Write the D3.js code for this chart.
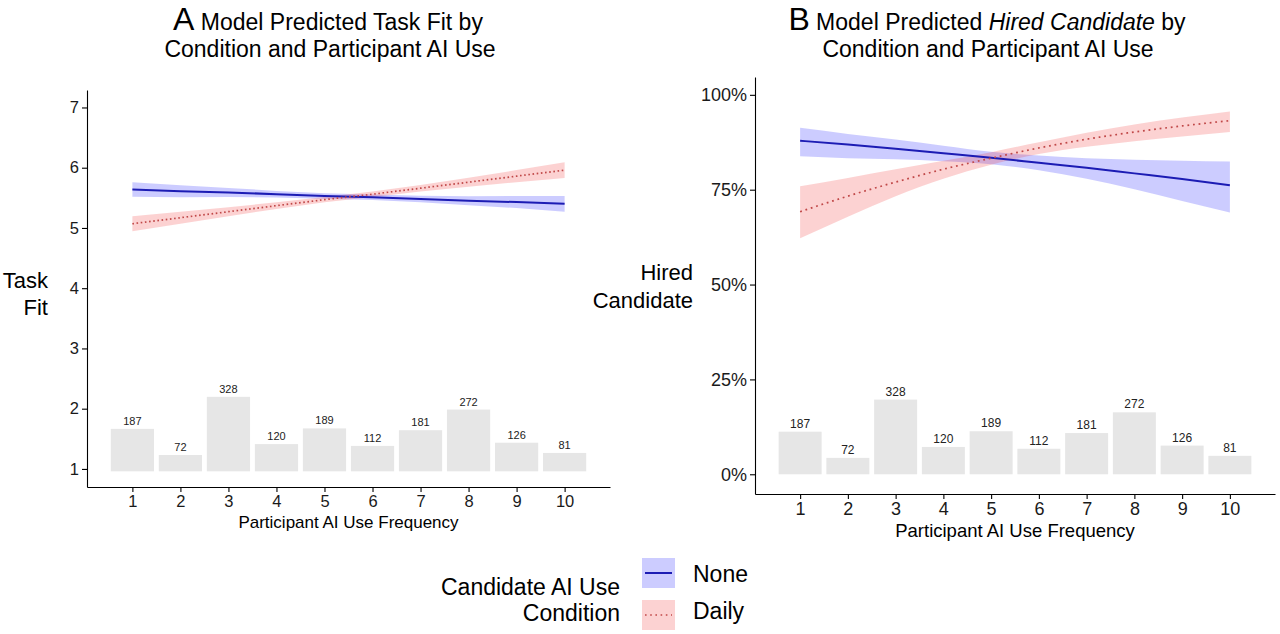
<!DOCTYPE html>
<html>
<head>
<meta charset="utf-8">
<script src="https://cdn.jsdelivr.net/npm/d3@7"></script>
<style>
  body { margin: 0; background: #fff; }
  svg { font-family: "Liberation Sans", Arial, Helvetica, sans-serif; }
  .axis path, .axis line { stroke: #000; stroke-width: 1.1; }
  .axis text { fill: #1a1a1a; }
</style>
</head>
<body>
<svg width="1280" height="634"></svg>
<script>
var width = 1280,
    height = 634;

// participant AI use frequency and number of participants in each bin
var freq = [1, 2, 3, 4, 5, 6, 7, 8, 9, 10];
var counts = [187, 72, 328, 120, 189, 112, 181, 272, 126, 81];

// panel A: predicted task fit (1-7)
var fitNone   = [5.64, 5.61, 5.59, 5.56, 5.53, 5.51, 5.48, 5.45, 5.43, 5.40];
var fitNoneLo = [5.52, 5.51, 5.515, 5.505, 5.485, 5.465, 5.425, 5.375, 5.33, 5.27];
var fitNoneHi = [5.76, 5.71, 5.665, 5.615, 5.575, 5.555, 5.535, 5.525, 5.53, 5.53];
var fitDaily   = [5.07, 5.17, 5.27, 5.37, 5.47, 5.56, 5.66, 5.76, 5.86, 5.96];
var fitDailyLo = [4.945, 5.07, 5.195, 5.315, 5.425, 5.515, 5.605, 5.685, 5.76, 5.83];
var fitDailyHi = [5.195, 5.27, 5.345, 5.425, 5.515, 5.605, 5.715, 5.835, 5.96, 6.09];

// panel B: predicted probability of hiring the candidate
var hireNone   = [0.879, 0.869, 0.858, 0.846, 0.834, 0.821, 0.808, 0.793, 0.778, 0.762];
var hireNoneLo = [0.838, 0.833, 0.830, 0.825, 0.817, 0.801, 0.779, 0.751, 0.720, 0.690];
var hireNoneHi = [0.913, 0.897, 0.882, 0.866, 0.850, 0.840, 0.833, 0.829, 0.826, 0.824];
var hireDaily   = [0.692, 0.733, 0.770, 0.804, 0.833, 0.860, 0.883, 0.902, 0.918, 0.932];
var hireDailyLo = [0.622, 0.679, 0.733, 0.779, 0.816, 0.844, 0.863, 0.878, 0.890, 0.902];
var hireDailyHi = [0.759, 0.781, 0.804, 0.826, 0.849, 0.875, 0.900, 0.922, 0.940, 0.956];

var fitTicks = [1, 2, 3, 4, 5, 6, 7];
var hireTicks = [0, 0.25, 0.5, 0.75, 1];

var blueLine = "#1c1cb4",
    blueFill = "#2a2aff",
    redLine = "#c04848",
    redFill = "#f03030",
    barFill = "#e6e6e6";

var svg = d3.select("svg");

function series(vals, lo, hi) {
    return freq.map(function (f, i) { return { x: f, y: vals[i], lo: lo[i], hi: hi[i] }; });
}

function drawPanel(p) {
    var x = d3.scaleLinear().domain([0.055, 10.945]).range(p.xRange);
    var y = d3.scaleLinear().domain(p.yDomain).range(p.yRange);
    var g = svg.append("g");
    var bw = x(0.9) - x(0);

    // count bars
    g.selectAll("rect.bar")
        .data(counts)
        .enter().append("rect")
        .attr("class", "bar")
        .attr("x", function (d, i) { return x(freq[i]) - bw / 2; })
        .attr("width", bw)
        .attr("y", function (d) { return y(p.barBase + d * p.barK); })
        .attr("height", function (d) { return y(p.barBase) - y(p.barBase + d * p.barK); })
        .attr("fill", barFill);

    g.selectAll("text.count")
        .data(counts)
        .enter().append("text")
        .attr("class", "count")
        .attr("x", function (d, i) { return x(freq[i]); })
        .attr("y", function (d) { return y(p.barBase + d * p.barK) - 4; })
        .attr("text-anchor", "middle")
        .attr("font-size", p.countSize)
        .attr("fill", "#222")
        .text(function (d) { return d; });

    var area = d3.area()
        .curve(p.curve)
        .x(function (d) { return x(d.x); })
        .y0(function (d) { return y(d.lo); })
        .y1(function (d) { return y(d.hi); });
    var line = d3.line()
        .curve(p.curve)
        .x(function (d) { return x(d.x); })
        .y(function (d) { return y(d.y); });

    g.append("path").datum(p.none).attr("d", area)
        .attr("fill", blueFill).attr("fill-opacity", 0.24);
    g.append("path").datum(p.daily).attr("d", area)
        .attr("fill", redFill).attr("fill-opacity", 0.22);
    g.append("path").datum(p.none).attr("d", line)
        .attr("fill", "none").attr("stroke", blueLine).attr("stroke-width", 2);
    g.append("path").datum(p.daily).attr("d", line)
        .attr("fill", "none").attr("stroke", redLine).attr("stroke-width", 1.7)
        .attr("stroke-dasharray", p.dash);

    // axes
    g.append("g")
        .attr("class", "axis")
        .attr("transform", "translate(" + p.xRange[0] + ",0)")
        .call(d3.axisLeft(y).tickValues(p.yTicks).tickFormat(p.yFormat)
            .tickSize(5).tickSizeOuter(0).tickPadding(3))
        .selectAll("text").attr("font-size", p.tickSize);

    g.append("g")
        .attr("class", "axis")
        .attr("transform", "translate(0," + p.yRange[0] + ")")
        .call(d3.axisBottom(x).tickValues(freq).tickFormat(d3.format("d"))
            .tickSize(5).tickSizeOuter(0).tickPadding(3))
        .selectAll("text").attr("font-size", p.tickSize);

    g.append("text")
        .attr("x", x(5.5))
        .attr("y", p.xTitleY)
        .attr("text-anchor", "middle")
        .attr("font-size", p.xTitleSize)
        .text("Participant AI Use Frequency");

    // y title, two lines, right aligned
    var yt = g.append("text")
        .attr("text-anchor", "end")
        .attr("font-size", 22);
    p.yTitle.forEach(function (t, i) {
        yt.append("tspan").attr("x", p.yTitleX).attr("y", p.yTitleY[i]).text(t);
    });

    // title
    var t1 = g.append("text")
        .attr("x", p.titleX[0])
        .attr("y", 30)
        .attr("text-anchor", "middle")
        .attr("font-size", 23);
    t1.append("tspan").attr("font-size", 32).text(p.tag);
    p.title1.forEach(function (s) {
        t1.append("tspan").attr("font-style", s.italic ? "italic" : null).text(s.text);
    });
    g.append("text")
        .attr("x", p.titleX[1])
        .attr("y", 57)
        .attr("text-anchor", "middle")
        .attr("font-size", 23)
        .text("Condition and Participant AI Use");
}

drawPanel({
    xRange: [87, 610],
    yRange: [487, 90],
    yDomain: [0.7, 7.29],
    yTicks: fitTicks,
    yFormat: d3.format("d"),
    barBase: 0.96,
    barK: 0.00377,
    curve: d3.curveLinear,
    dash: "1.6,2.6",
    none: series(fitNone, fitNoneLo, fitNoneHi),
    daily: series(fitDaily, fitDailyLo, fitDailyHi),
    tickSize: 16.5,
    countSize: 11,
    xTitleY: 528,
    xTitleSize: 17,
    yTitle: ["Task", "Fit"],
    yTitleX: 48,
    yTitleY: [288, 315],
    tag: "A",
    title1: [{ text: " Model Predicted Task Fit by" }],
    titleX: [328, 330]
});

drawPanel({
    xRange: [755, 1275],
    yRange: [494, 77],
    yDomain: [-0.052, 1.047],
    yTicks: hireTicks,
    yFormat: d3.format(".0%"),
    barBase: 0,
    barK: 0.0006,
    curve: d3.curveMonotoneX,
    dash: "1.8,3.8",
    none: series(hireNone, hireNoneLo, hireNoneHi),
    daily: series(hireDaily, hireDailyLo, hireDailyHi),
    tickSize: 18,
    countSize: 12,
    xTitleY: 537,
    xTitleSize: 18.5,
    yTitle: ["Hired", "Candidate"],
    yTitleX: 693,
    yTitleY: [280, 308],
    tag: "B",
    title1: [{ text: " Model Predicted " }, { text: "Hired Candidate", italic: true }, { text: " by" }],
    titleX: [987, 988]
});

// legend
var legendKeys = ["None", "Daily"];
var legend = svg.append("g");
var lt = legend.append("text").attr("text-anchor", "end").attr("font-size", 23);
lt.append("tspan").attr("x", 620).attr("y", 595).text("Candidate AI Use");
lt.append("tspan").attr("x", 620).attr("y", 621).text("Condition");

var keyY = d3.scalePoint().domain(legendKeys).range([573, 615]);
var labelY = d3.scalePoint().domain(legendKeys).range([582, 619]);
legendKeys.forEach(function (k, i) {
    var cy = keyY(k);
    legend.append("rect")
        .attr("x", 642).attr("y", cy - 15).attr("width", 33).attr("height", 30)
        .attr("fill", i ? redFill : blueFill).attr("fill-opacity", i ? 0.22 : 0.24);
    legend.append("line")
        .attr("x1", 645).attr("x2", 672).attr("y1", cy).attr("y2", cy)
        .attr("stroke", i ? redLine : blueLine)
        .attr("stroke-width", i ? 1.7 : 2)
        .attr("stroke-dasharray", i ? "1.6,3.6" : null);
    legend.append("text")
        .attr("x", 693).attr("y", labelY(k))
        .attr("font-size", 23)
        .text(k);
});
</script>
</body>
</html>
